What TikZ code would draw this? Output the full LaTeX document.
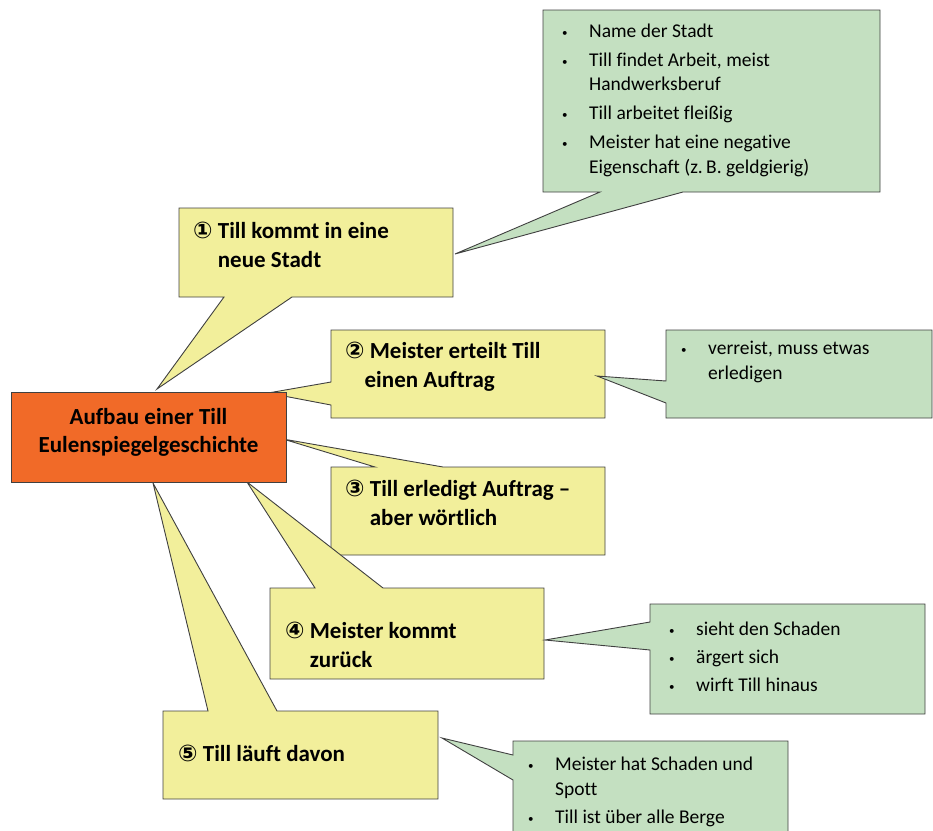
\documentclass[tikz,border=0pt]{standalone}
\usepackage{fontspec}
\setmainfont{Carlito}[Ligatures=NoCommon]
\newfontfamily\circfont{DejaVu Sans}
\usepackage{tikz}

\definecolor{stepyellow}{RGB}{242,239,155}
\definecolor{notegreen}{RGB}{196,224,193}
\definecolor{titleorange}{RGB}{241,106,40}
\definecolor{edgegray}{RGB}{64,64,64}

\newcommand{\stepno}[1]{{\circfont\fontsize{23}{28}\selectfont #1}}
\newcommand{\blt}{\makebox[28pt][l]{\hspace*{1pt}\raisebox{1pt}{\fontsize{11}{11}\selectfont\textbullet}}}
\newcommand{\ind}{\hspace*{28pt}}

\tikzset{
  ycall/.style={fill=stepyellow, draw=edgegray, line width=0.9pt},
  gcall/.style={fill=notegreen, draw=edgegray, line width=0.9pt},
  steptext/.style={font=\bfseries\fontsize{23}{29}\selectfont, align=left, anchor=west, inner sep=0pt},
  notetext/.style={font=\fontsize{19.5}{24.5}\selectfont, align=left, anchor=west, inner sep=0pt},
  titlebox/.style={fill=titleorange, draw=edgegray, line width=0.9pt, minimum width=275pt,
    minimum height=90pt, inner sep=0pt, align=center, font=\bfseries\fontsize{23}{28}\selectfont}
}

\begin{document}
\begin{tikzpicture}[x=1pt,y=-1pt]
        \clip (0,0) rectangle (933,830);
        % yellow callouts, steps 1 to 5
        \filldraw[ycall] (179,208) -- (453,208) -- (453,297) -- (292,297) -- (157,389) -- (224,297) -- (179,297) -- cycle;
        \filldraw[ycall] (331,330) -- (605,330) -- (605,418) -- (331,418) -- (331,405) -- (268,393) -- (331,382) -- cycle;
        \filldraw[ycall] (331,467) -- (375,467) -- (283,439) -- (443,467) -- (605,467) -- (605,555) -- (331,555) -- cycle;
        \filldraw[ycall] (270,588) -- (315,588) -- (247,482) -- (383,588) -- (544,588) -- (544,679) -- (270,679) -- cycle;
        \filldraw[ycall] (163,711) -- (208,711) -- (153,483) -- (277,711) -- (438,711) -- (438,799) -- (163,799) -- cycle;
        % green notes
        \filldraw[gcall] (543,10) -- (880,10) -- (880,192) -- (683,192) -- (455,254) -- (600,192) -- (543,192) -- cycle;
        \filldraw[gcall] (666,330) -- (932,330) -- (932,418) -- (666,418) -- (666,403) -- (597,376) -- (666,381) -- cycle;
        \filldraw[gcall] (650,604) -- (925,604) -- (925,714) -- (650,714) -- (650,650) -- (545,640) -- (650,622) -- cycle;
        \filldraw[gcall] (513,741) -- (788,741) -- (788,850) -- (513,850) -- (513,780) -- (442,738) -- (513,755) -- cycle;

        \node[titlebox] at (148.5,437) (title) {Aufbau einer Till\\\raisebox{0pt}[\height][\dimexpr\depth+9pt]{Eulenspiegelgeschichte}};

        \node[steptext] at (193,245) (s1) {\stepno{①} Till kommt in eine\\\phantom{\stepno{①} }neue Stadt};
        \node[steptext] at (345,367) (s2) {\stepno{②} Meister erteilt Till\\\phantom{\stepno{②}}einen Auftrag};
        \node[steptext] at (345,503) (s3) {\stepno{③} Till erledigt Auftrag --\\\phantom{\stepno{③} }aber wörtlich};
        \node[steptext] at (285,645) (s4) {\stepno{④} Meister kommt\\\phantom{\stepno{④} }zurück};
        \node[steptext] at (178,753) (s5) {\stepno{⑤} Till läuft davon};

        \node[notetext] at (561,100) (n1) {\blt Name der Stadt\\[4.5pt]
          \blt Till findet Arbeit, meist\\\ind Handwerksberuf\\[4.5pt]
          \blt Till arbeitet fleißig\\[4.5pt]
          \blt Meister hat eine negative\\\ind Eigenschaft (z.\,B. geldgierig)};
        \node[notetext] at (680,362) (n2) {\blt verreist, muss etwas\\\ind erledigen};
        \node[notetext] at (668,657) (n4) {\blt sieht den Schaden\\[3.5pt]
          \blt ärgert sich\\[3.5pt]\blt wirft Till hinaus};
        \node[notetext] at (527,792) (n5) {\blt Meister hat Schaden und\\\ind Spott\\[3.5pt]
          \blt Till ist über alle Berge};
    \end{tikzpicture}
\end{document}
